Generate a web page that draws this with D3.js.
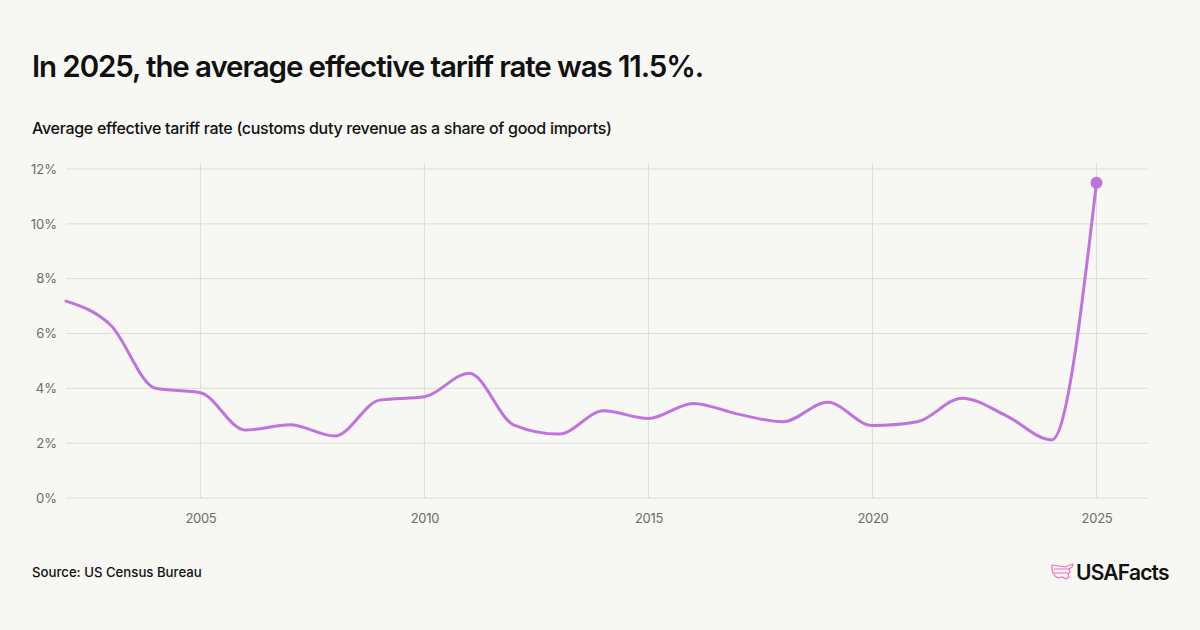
<!DOCTYPE html>
<html>
<head>
<meta charset="utf-8">
<script src="https://cdn.jsdelivr.net/npm/d3@7"></script>
<style>
  html, body { margin: 0; padding: 0; background: #f7f7f3; }
  svg { display: block; }
</style>
</head>
<body>
<svg id="chart" width="1200" height="630"></svg>
<script>
const years = [2002, 2003, 2004, 2005, 2006, 2007, 2008, 2009, 2010, 2011, 2012, 2013,
               2014, 2015, 2016, 2017, 2018, 2019, 2020, 2021, 2022, 2023, 2024, 2025];
const rates = [7.18, 6.3, 4.0, 3.84, 2.48, 2.67, 2.26, 3.57, 3.69, 4.55, 2.66, 2.33,
               3.18, 2.9, 3.45, 3.06, 2.78, 3.49, 2.64, 2.78, 3.64, 2.99, 2.12, 11.5];
const yTicks = [0, 2, 4, 6, 8, 10, 12];
const xTicks = [2005, 2010, 2015, 2020, 2025];
const titleText = "In 2025, the average effective tariff rate was 11.5%.";
const subtitleText = "Average effective tariff rate (customs duty revenue as a share of good imports)";
const sourceText = "Source: US Census Bureau";

const data = years.map((y, i) => ({ year: y, value: rates[i] }));

const svg = d3.select("#chart");
const font = "Inter, 'Noto Sans', sans-serif";

svg.append("rect").attr("width", 1200).attr("height", 630).attr("fill", "#f7f7f3");

svg.append("text").attr("x", 32).attr("y", 77)
  .attr("font-family", font).attr("font-size", 29.5).attr("font-weight", 600)
  .attr("letter-spacing", -1.1).attr("fill", "#111").text(titleText);

svg.append("text").attr("x", 32).attr("y", 134)
  .attr("font-family", font).attr("font-size", 16).attr("font-weight", 500)
  .attr("letter-spacing", -0.3).attr("fill", "#111").text(subtitleText);

const x = d3.scaleLinear().domain([2002, 2026.15]).range([66, 1148]);
const y = d3.scaleLinear().domain([0, 12]).range([498, 169]);

const g = svg.append("g");

// horizontal grid
g.append("g").selectAll("line").data(yTicks).join("line")
  .attr("x1", 66).attr("x2", 1148)
  .attr("y1", d => y(d)).attr("y2", d => y(d))
  .attr("stroke", "#dddcd8").attr("stroke-width", 1);

// vertical grid
g.append("g").selectAll("line").data(xTicks).join("line")
  .attr("x1", d => x(d)).attr("x2", d => x(d))
  .attr("y1", 163).attr("y2", 498)
  .attr("stroke", "#dddcd8").attr("stroke-width", 1);

// y axis labels
const yAxis = d3.axisLeft(y).tickValues(yTicks).tickFormat(d => d + "%").tickSize(0).tickPadding(0);
const ya = svg.append("g").attr("transform", "translate(57,0)").call(yAxis);
ya.select(".domain").remove();
ya.selectAll("text").attr("font-family", font).attr("font-size", 13).attr("fill", "#6b6b6b");

// x axis labels
const xAxis = d3.axisBottom(x).tickValues(xTicks).tickFormat(d3.format("d")).tickSize(0).tickPadding(0);
const xa = svg.append("g").attr("transform", "translate(0,514)").call(xAxis);
xa.select(".domain").remove();
xa.selectAll("text").attr("font-family", font).attr("font-size", 13).attr("fill", "#6b6b6b")
  .attr("letter-spacing", -0.3);

// line
const line = d3.line().x(d => x(d.year)).y(d => y(d.value)).curve(d3.curveMonotoneX);
svg.append("path").datum(data).attr("d", line)
  .attr("fill", "none").attr("stroke", "#bf73df").attr("stroke-width", 3)
  .attr("stroke-linejoin", "round").attr("stroke-linecap", "round");

const last = data[data.length - 1];
svg.append("circle").attr("cx", x(last.year)).attr("cy", y(last.value)).attr("r", 6)
  .attr("fill", "#bf73df");

// source
svg.append("text").attr("x", 32).attr("y", 577)
  .attr("font-family", font).attr("font-size", 13.2).attr("font-weight", 500)
  .attr("fill", "#111").text(sourceText);

// logo
const logo = svg.append("g").attr("transform", "translate(1051,563)");
const pink = "#ef6fb4";
logo.append("path")
  .attr("d", "M1,2 L8,3 L14,4 L19,2 L22,1 L21,4 L18,6 L19,9 L17,11 L18,14 L15,16 L11,14 L7,15 L4,13 L2,10 L1,6 Z")
  .attr("fill", "none").attr("stroke", pink).attr("stroke-width", 1.2).attr("stroke-linejoin", "round");
logo.append("path").attr("d", "M3,6 L19,6 M3,10 L17,10").attr("stroke", pink).attr("stroke-width", 1.1);
svg.append("text").attr("x", 1076).attr("y", 580)
  .attr("font-family", font).attr("font-size", 21).attr("font-weight", 600)
  .attr("letter-spacing", -0.8).attr("fill", "#111").text("USAFacts");
</script>
</body>
</html>
